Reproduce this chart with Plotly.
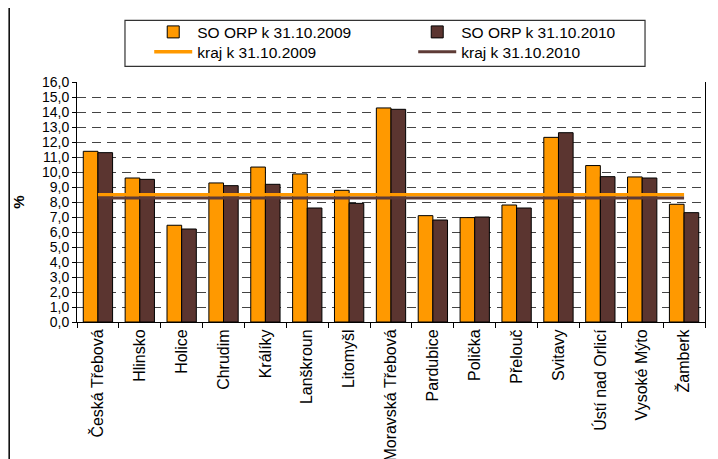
import plotly.graph_objects as go

categories = ["Česká Třebová", "Hlinsko", "Holice", "Chrudim", "Králíky", "Lanškroun",
              "Litomyšl", "Moravská Třebová", "Pardubice", "Polička", "Přelouč",
              "Svitavy", "Ústí nad Orlicí", "Vysoké Mýto", "Žamberk"]
so_orp_2009 = [11.38, 9.60, 6.45, 9.27, 10.33, 9.87, 8.78, 14.27, 7.09, 6.96, 7.80,
               12.31, 10.43, 9.67, 7.85]
so_orp_2010 = [11.29, 9.51, 6.20, 9.09, 9.18, 7.60, 7.91, 14.18, 6.80, 7.00, 7.60,
               12.62, 9.69, 9.60, 7.29]
kraj_2009 = 8.49
kraj_2010 = 8.27
y_ticks = [i for i in range(0, 17)]

ORANGE = "#FF9900"
BROWN = "#5B3530"
BROWN_LINE = "#5E3B36"
FONT = "Liberation Sans, Arial, sans-serif"

fig = go.Figure()
fig.add_trace(go.Bar(name="SO ORP k 31.10.2009", x=categories, y=so_orp_2009,
                     marker=dict(color=ORANGE, line=dict(color="black", width=1)),
                     legend="legend"))
fig.add_trace(go.Bar(name="SO ORP k 31.10.2010", x=categories, y=so_orp_2010,
                     marker=dict(color=BROWN, line=dict(color="black", width=1)),
                     legend="legend"))
fig.add_trace(go.Scatter(name="kraj k 31.10.2009", x=[categories[0], categories[-1]],
                         y=[kraj_2009, kraj_2009], mode="lines",
                         line=dict(color=ORANGE, width=3.5), legend="legend2"))
fig.add_trace(go.Scatter(name="kraj k 31.10.2010", x=[categories[0], categories[-1]],
                         y=[kraj_2010, kraj_2010], mode="lines",
                         line=dict(color=BROWN_LINE, width=3), legend="legend2"))

legend_common = dict(orientation="h", x=0.115, xanchor="left", yanchor="middle",
                     entrywidth=211, entrywidthmode="pixels",
                     font=dict(size=15.5, family=FONT), bgcolor="rgba(0,0,0,0)",
                     borderwidth=0, itemwidth=38)

# page body has an 8px default margin, so the figure is 8px smaller
fig.update_layout(
    width=710, height=451,
    margin=dict(l=69, r=13, t=74, b=137, autoexpand=False),
    paper_bgcolor="white", plot_bgcolor="white",
    font=dict(family=FONT, color="black", size=15),
    separators=", ",
    barmode="group", bargap=0.3, bargroupgap=0,
    showlegend=True,
    legend=dict(legend_common, y=1.207),
    legend2=dict(legend_common, y=1.124),
    xaxis=dict(type="category", showline=True, linecolor="black", linewidth=1,
               ticks="outside", ticklen=5, tickcolor="black", tickson="boundaries",
               tickangle=-90, tickfont=dict(size=16), showgrid=False, automargin=False),
    yaxis=dict(range=[0, 16], tickvals=y_ticks, tickformat=".1f",
               showline=True, linecolor="black", linewidth=1, mirror=True,
               ticks="outside", ticklen=4, tickcolor="black",
               tickfont=dict(size=14), automargin=False,
               showgrid=True, gridcolor="#444444", gridwidth=1, griddash="9px,6px",
               zeroline=False,
               title=dict(text="<b>%</b>", font=dict(size=15), standoff=13)),
    shapes=[
        dict(type="rect", xref="paper", yref="paper", x0=0.0764, x1=0.9045,
             y0=1.065, y1=1.257, line=dict(color="#333333", width=1.2),
             fillcolor="rgba(0,0,0,0)", layer="below"),
        dict(type="line", xref="paper", yref="paper", x0=-0.108, x1=-0.108,
             y0=-0.6, y1=1.4, line=dict(color="black", width=1.5)),
    ],
)

fig.write_html("out.html")
